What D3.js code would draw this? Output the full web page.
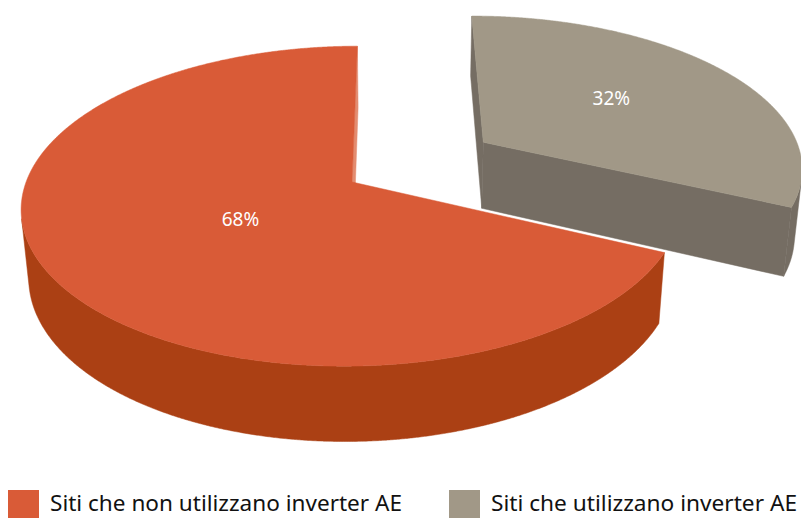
<!DOCTYPE html>
<html>
<head>
<meta charset="utf-8">
<script src="https://cdn.jsdelivr.net/npm/d3@7"></script>
<style>
  body { margin: 0; background: #fff; }
  svg { display: block; }
</style>
</head>
<body>
<div id="chart"></div>
<script>
// data
const categories = ["Siti che non utilizzano inverter AE", "Siti che utilizzano inverter AE"];
const values = [68, 32];
const labels = ["68%", "32%"];
const explode = [0, 0.49];

// styles
const topColors = ["#D95B37", "#A19887"];
const sideColors = ["#AB4014", "#756D63"];
const litColors = ["#E38C70", "#C9C1B3"];

var width = 801, height = 518;
var rad = Math.PI / 180;

// camera for the 3d pie (radius = 1 world unit)
var tilt = 28.66 * rad,
    camDist = 5.81,
    focal = 1894,
    camX = 0.147,
    origin = [400, 182],
    thick = 0.2417,
    firstAngle = 115,
    labelR = [0.40, 0.54],
    labelShift = -3 * rad;

var camera = [camX, camDist * Math.sin(tilt), -camDist * Math.cos(tilt)];

function project(x, y, z) {
  var xc = x - camX,
      yc = y * Math.cos(tilt) + z * Math.sin(tilt),
      d = camDist + z * Math.cos(tilt) - y * Math.sin(tilt);
  return [origin[0] + focal * xc / d, origin[1] - focal * yc / d];
}

var svg = d3.select("#chart").append("svg")
    .attr("width", width)
    .attr("height", height);

var pie = d3.pie()
    .sort(null)
    .value(d => d)
    .startAngle(firstAngle * rad)
    .endAngle(firstAngle * rad + 2 * Math.PI);

var arcs = pie(values).map((a, i) => {
  var mid = (a.startAngle + a.endAngle) / 2;
  return {
    i: i,
    a0: a.startAngle,
    a1: a.endAngle,
    mid: mid,
    ox: explode[i] * Math.sin(mid),
    oz: explode[i] * Math.cos(mid)
  };
});

var line = d3.line();

function rimPoints(s, a0, a1, step) {
  var n = Math.max(2, Math.ceil((a1 - a0) / step)), pts = [];
  for (var k = 0; k <= n; k++) {
    var t = a0 + (a1 - a0) * k / n;
    pts.push({ t: t, x: s.ox + Math.sin(t), z: s.oz + Math.cos(t) });
  }
  return pts;
}

function facing(nx, nz, px, pz) {
  return nx * (camera[0] - px) + nz * (camera[2] - pz) > 0;
}

// far slices first
arcs.sort((a, b) => (b.oz + 0.5 * Math.cos(b.mid)) - (a.oz + 0.5 * Math.cos(a.mid)));

var g = svg.append("g");

arcs.forEach(s => {
  var slice = g.append("g").attr("class", "slice");
  var pts = rimPoints(s, s.a0, s.a1, 0.25 * rad);

  // radial faces (the ones turned to the right catch the light)
  [[s.a0, -Math.cos(s.a0), Math.sin(s.a0)], [s.a1, Math.cos(s.a1), -Math.sin(s.a1)]].forEach(f => {
    if (!facing(f[1], f[2], s.ox, s.oz)) return;
    var ex = s.ox + Math.sin(f[0]), ez = s.oz + Math.cos(f[0]);
    var quad = [
      project(s.ox, 0, s.oz), project(ex, 0, ez),
      project(ex, -thick, ez), project(s.ox, -thick, s.oz)
    ];
    var col = f[1] > 0.7 ? litColors[s.i] : sideColors[s.i];
    slice.append("path")
        .attr("d", line(quad) + "Z")
        .attr("fill", col)
        .attr("stroke", col)
        .attr("stroke-width", 0.5);
  });

  // outer rim, in visible runs
  var runs = [], cur = null;
  pts.forEach(p => {
    if (facing(Math.sin(p.t), Math.cos(p.t), p.x, p.z)) {
      if (!cur) { cur = []; runs.push(cur); }
      cur.push(p);
    } else cur = null;
  });
  runs.forEach(run => {
    var poly = run.map(p => project(p.x, 0, p.z))
        .concat(run.slice().reverse().map(p => project(p.x, -thick, p.z)));
    slice.append("path")
        .attr("d", line(poly) + "Z")
        .attr("fill", sideColors[s.i])
        .attr("stroke", sideColors[s.i])
        .attr("stroke-width", 0.5);
  });

  // top face
  var top = [project(s.ox, 0, s.oz)].concat(pts.map(p => project(p.x, 0, p.z)));
  slice.append("path")
      .attr("d", line(top) + "Z")
      .attr("fill", topColors[s.i])
      .attr("stroke", topColors[s.i])
      .attr("stroke-width", 0.5);

  // label
  var la = s.mid + labelShift;
  var lp = project(s.ox + labelR[s.i] * Math.sin(la), 0, s.oz + labelR[s.i] * Math.cos(la));
  slice.append("text")
      .attr("x", lp[0])
      .attr("y", lp[1])
      .attr("dy", "0.35em")
      .attr("text-anchor", "middle")
      .attr("font-family", "'Noto Sans', 'Open Sans', sans-serif")
      .attr("font-size", "19px")
      .attr("fill", "#fff")
      .text(labels[s.i]);
});

// legend
var legendX = [8, 449],
    legendY = 490,
    legendW = [352, 306];

var legend = svg.append("g").attr("class", "legend");
categories.forEach((c, i) => {
  legend.append("rect")
      .attr("x", legendX[i])
      .attr("y", legendY)
      .attr("width", 31)
      .attr("height", 28)
      .attr("fill", topColors[i]);
  legend.append("text")
      .attr("x", legendX[i] + 42)
      .attr("y", legendY + 21)
      .attr("font-family", "'Noto Sans', 'Open Sans', sans-serif")
      .attr("font-size", "22px")
      .attr("fill", "#111")
      .attr("textLength", legendW[i])
      .attr("lengthAdjust", "spacingAndGlyphs")
      .text(c);
});
</script>
</body>
</html>
